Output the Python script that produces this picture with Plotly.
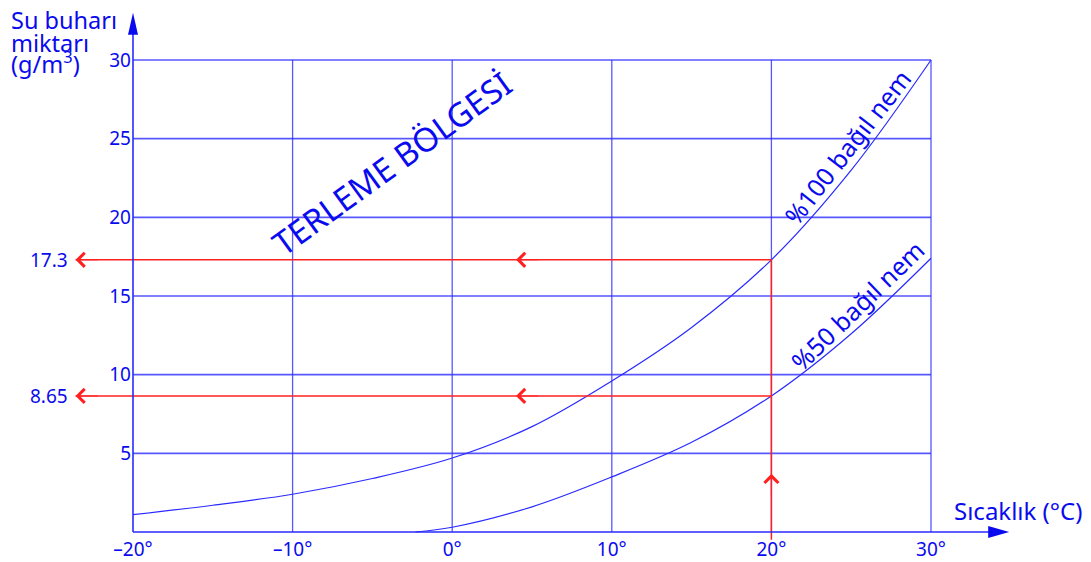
import plotly.graph_objects as go

# ── Data ──────────────────────────────────────────────────────────────
temp_100 = [-20, -15, -10, -5, 0, 5, 10, 15, 20, 25, 30]
vapor_100 = [1.1, 1.7, 2.4, 3.4, 4.7, 6.7, 9.6, 13.0, 17.3, 23.0, 30.0]

temp_50 = [-2.3, 0, 5, 10, 15, 20, 25, 30]
vapor_50 = [0.0, 0.3, 1.6, 3.5, 5.7, 8.65, 12.6, 17.4]

x_ticks = [-20, -10, 0, 10, 20, 30]
x_labels = ["–20°", "–10°", "0°", "10°", "20°", "30°"]
y_ticks = [5, 10, 15, 20, 25, 30]
y_labels = ["5", "10", "15", "20", "25", "30"]

reading_temp = 20
reading_vals = [17.3, 8.65]
reading_labels = ["17.3", "8.65"]

# ── Styling ───────────────────────────────────────────────────────────
BLUE = "#0a0aee"
LINE = "#2a2aff"
GRID = "rgba(45,45,255,0.8)"
RED = "#ff2020"
FONT = "Noto Sans"

OFF = 8                     # page body margin
W, H = 1091 - OFF, 562 - OFF
# pixel anchors of the plot frame (page pixels minus body margin)
PX_L, PX_R = 133 - OFF, 931 - OFF   # x = -20 .. 30
PX_B, PX_T = 532 - OFF, 60 - OFF    # y = 0 .. 30
sx = (PX_R - PX_L) / 50
sy = (PX_B - PX_T) / 30
x_range = [-20 - PX_L / sx, 30 + (W - PX_R) / sx]
y_range = [-(H - PX_B) / sy, 30 + PX_T / sy]


def px(x, y):
    """page pixel -> paper coords"""
    return (x - OFF) / W, 1 - (y - OFF) / H


x_min, x_max = x_ticks[0], x_ticks[-1]
y_max = y_ticks[-1]
x_tip, y_tip = 34.9, 33.0
x_left = -23.6

fig = go.Figure()

# grid
shapes = []
for xv in x_ticks[1:]:
    shapes.append(dict(type="line", x0=xv, x1=xv, y0=0, y1=y_max,
                       line=dict(color=GRID, width=1.3), layer="below"))
for yv in y_ticks:
    shapes.append(dict(type="line", x0=x_min, x1=x_max, y0=yv, y1=yv,
                       line=dict(color=GRID, width=1.6), layer="below"))

# axes with arrow heads
shapes.append(dict(type="line", x0=x_min, x1=x_min, y0=0, y1=y_tip - 1,
                   line=dict(color=LINE, width=1.6)))
shapes.append(dict(type="line", x0=x_min, x1=x_tip - 1, y0=0, y1=0,
                   line=dict(color=LINE, width=1.6)))
shapes.append(dict(type="path", xref="x", yref="y", xsizemode="pixel", ysizemode="pixel",
                   xanchor=x_min, yanchor=y_tip, path="M0,0 L-5,-22 L5,-22 Z",
                   fillcolor=BLUE, line=dict(width=0)))
shapes.append(dict(type="path", xref="x", yref="y", xsizemode="pixel", ysizemode="pixel",
                   xanchor=x_tip, yanchor=0, path="M0,0 L-21,6 L-21,-6 Z",
                   fillcolor=BLUE, line=dict(width=0)))

# curves
fig.add_trace(go.Scatter(x=temp_100, y=vapor_100, mode="lines", line_shape="spline",
                         line=dict(color=LINE, width=1.2), hoverinfo="skip"))
fig.add_trace(go.Scatter(x=temp_50, y=vapor_50, mode="lines", line_shape="spline",
                         line=dict(color=LINE, width=1.2), hoverinfo="skip"))

# red reading lines
fig.add_trace(go.Scatter(x=[reading_temp, reading_temp], y=[-0.5, reading_vals[0]],
                         mode="lines", line=dict(color=RED, width=1.5), hoverinfo="skip"))
for v in reading_vals:
    fig.add_trace(go.Scatter(x=[reading_temp, x_left], y=[v, v], mode="lines",
                             line=dict(color=RED, width=1.5), hoverinfo="skip"))

ann = []
arrow = dict(showarrow=True, arrowhead=4, arrowsize=3.0, arrowwidth=0.9,
             arrowcolor=RED, text="", xref="x", yref="y", axref="x", ayref="y")
for v in reading_vals:
    ann.append(dict(x=x_left, y=v, ax=x_left + 1.5, ay=v, **arrow))
    ann.append(dict(x=4.0, y=v, ax=5.5, ay=v, **arrow))
ann.append(dict(x=reading_temp, y=3.7, ax=reading_temp, ay=2.2, **arrow))

for v, lab in zip(reading_vals, reading_labels):
    ann.append(dict(x=-23.95, y=v, text=lab, showarrow=False, xanchor="right",
                    font=dict(size=19, color=BLUE, family=FONT)))

# texts
ann.append(dict(x=-3.8, y=23.45, text="TERLEME BÖLGESİ", textangle=-36, showarrow=False,
                font=dict(size=33, color=BLUE, family=FONT)))
ann.append(dict(x=24.75, y=24.45, text="%100 bağıl nem", textangle=-52, showarrow=False,
                font=dict(size=25, color=BLUE, family=FONT)))
ann.append(dict(x=25.4, y=14.4, text="%50 bağıl nem", textangle=-44, showarrow=False,
                font=dict(size=25, color=BLUE, family=FONT)))
sx_, sy_ = px(1018, 510)
ann.append(dict(x=sx_, y=sy_, xref="paper", yref="paper", text="Sıcaklık (°C)",
                xanchor="center", yanchor="middle",
                showarrow=False, font=dict(size=24, color=BLUE, family=FONT)))
for i, line in enumerate(["Su buharı", "miktarı", "(g/m<sup>3</sup>)"]):
    tx, ty = px(9, 20 + 23 * i - (3 if i == 2 else 0))
    ann.append(dict(x=tx, y=ty, xref="paper", yref="paper",
                    text=line, showarrow=False, xanchor="left", yanchor="middle",
                    font=dict(size=23.5, color=BLUE, family=FONT)))

fig.update_layout(
    width=W, height=H, margin=dict(l=0, r=0, t=0, b=0),
    paper_bgcolor="white", plot_bgcolor="white", showlegend=False,
    shapes=shapes, annotations=ann,
    xaxis=dict(range=x_range, showgrid=False, zeroline=False, showline=False,
               tickvals=x_ticks, ticktext=x_labels, ticks="", anchor="free",
               position=(H - PX_B) / H, automargin=False, ticklabelstandoff=4,
               tickfont=dict(size=19, color=BLUE, family=FONT)),
    yaxis=dict(range=y_range, showgrid=False, zeroline=False, showline=False,
               tickvals=y_ticks, ticktext=y_labels, ticks="", anchor="free",
               position=PX_L / W, automargin=False, ticklabelstandoff=2,
               tickfont=dict(size=19, color=BLUE, family=FONT)),
)

fig.write_html("out.html")
